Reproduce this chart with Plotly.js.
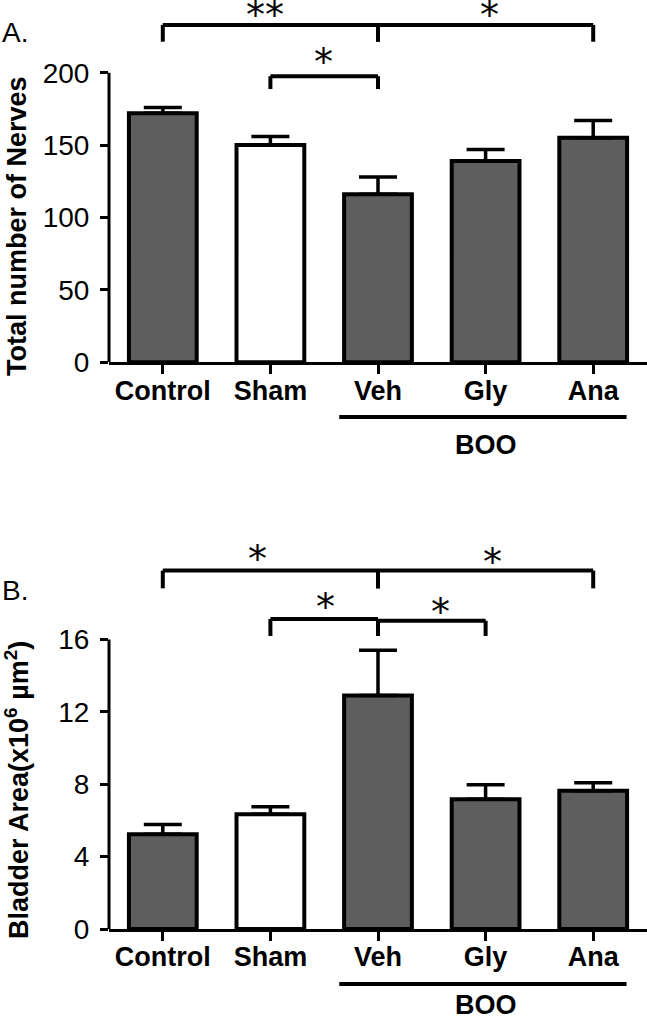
<!DOCTYPE html>
<html>
<head>
<meta charset="utf-8">
<script src="https://cdn.plot.ly/plotly-3.0.1.min.js"></script>
<style>
html,body{margin:0;padding:0;background:#fff;}
#chart{width:647px;height:1020px;}
</style>
</head>
<body>
<div id="chart"></div>
<script>
// ---- data ----
var categories = ["Control", "Sham", "Veh", "Gly", "Ana"];
var nervesMean = [172, 150, 116, 139, 155];
var nervesSEM  = [4, 6, 12, 8, 12];
var areaMean   = [5.23, 6.34, 12.9, 7.17, 7.64];
var areaSEM    = [0.55, 0.42, 2.5, 0.8, 0.44];
var barColors  = ["#5e5e5e", "#ffffff", "#5e5e5e", "#5e5e5e", "#5e5e5e"];
var nervesTicks = [0, 50, 100, 150, 200];
var areaTicks   = [0, 4, 8, 12, 16];
var groupLabel = "BOO";
// significance brackets: [from index, to index, line y, drop y]
var nervesBrackets = [[0, 2, 233, 221.4], [2, 4, 233, 221.4], [1, 2, 197.6, 188.7]];
var nervesStars = [["**", 0.95, 241], ["*", 3.04, 241], ["*", 1.49, 208.8]];
var areaBrackets = [[0, 2, 19.8, 18.82], [2, 4, 19.8, 18.82], [1, 2, 17.13, 16.19], [2, 3, 17.03, 16.19]];
var areaStars = [["*", 0.88, 20.57], ["*", 3.06, 20.4], ["*", 1.51, 17.9], ["*", 2.58, 17.6]];

var FONT = "Liberation Sans, Arial, sans-serif";
var STARFONT = "DejaVu Sans, sans-serif";
var PW = 647 - 109; // plot width in px

function barTrace(means, sems, xa, ya) {
  return {
    type: "bar", x: categories, y: means, xaxis: xa, yaxis: ya,
    width: 0.63,
    marker: {color: barColors, line: {color: "#000", width: 4}},
    error_y: {type: "data", array: sems, arrayminus: sems.map(function(){return 0;}),
              symmetric: false, color: "#000", thickness: 3.5, width: 19},
    hoverinfo: "none", showlegend: false
  };
}

var shapes = [];
var annotations = [];
function addBrackets(list, xr, yr) {
  list.forEach(function(b) {
    shapes.push({type: "line", xref: xr, yref: yr, x0: b[0], x1: b[0], y0: b[3], y1: b[2], line: {color: "#000", width: 4}});
    shapes.push({type: "line", xref: xr, yref: yr, x0: b[0], x1: b[1], y0: b[2], y1: b[2], line: {color: "#000", width: 4}});
    shapes.push({type: "line", xref: xr, yref: yr, x0: b[1], x1: b[1], y0: b[3], y1: b[2], line: {color: "#000", width: 4}});
  });
}
function addStars(list, xr, yr) {
  list.forEach(function(s) {
    annotations.push({text: s[0], xref: xr, yref: yr, x: s[1], y: s[2], showarrow: false,
      xanchor: "center", yanchor: "middle", yshift: -2,
      font: {family: STARFONT, size: 38, color: "#000"}});
  });
}
addBrackets(nervesBrackets, "x", "y");
addBrackets(areaBrackets, "x2", "y2");
addStars(nervesStars, "x", "y");
addStars(areaStars, "x2", "y2");

// y-axis lines (only up to the top tick)
shapes.push({type: "line", xref: "x domain", yref: "y", x0: 0, x1: 0, y0: 0, y1: nervesTicks[nervesTicks.length-1], line: {color: "#000", width: 3}});
shapes.push({type: "line", xref: "x2 domain", yref: "y2", x0: 0, x1: 0, y0: 0, y1: areaTicks[areaTicks.length-1], line: {color: "#000", width: 3}});

// BOO group lines
shapes.push({type: "line", xref: "x", yref: "paper", x0: 1.64, x1: 4.31, y0: 1 - 417/1020, y1: 1 - 417/1020, line: {color: "#000", width: 4}});
shapes.push({type: "line", xref: "x2", yref: "paper", x0: 1.64, x1: 4.31, y0: 1 - 984/1020, y1: 1 - 984/1020, line: {color: "#000", width: 4}});
annotations.push({text: "<b>" + groupLabel + "</b>", xref: "x", yref: "paper", x: 3, y: 1 - 445/1020, showarrow: false, yanchor: "middle", font: {family: FONT, size: 27, color: "#000"}});
annotations.push({text: "<b>" + groupLabel + "</b>", xref: "x2", yref: "paper", x: 3, y: 1 - 1005/1020, showarrow: false, yanchor: "middle", font: {family: FONT, size: 27, color: "#000"}});

// panel letters
annotations.push({text: "A.", xref: "paper", yref: "paper", x: -109/PW, y: 1 - 32/1020, xanchor: "left", yanchor: "middle", showarrow: false, font: {family: FONT, size: 28, color: "#000"}});
annotations.push({text: "B.", xref: "paper", yref: "paper", x: -109/PW, y: 1 - 590/1020, xanchor: "left", yanchor: "middle", showarrow: false, font: {family: FONT, size: 28, color: "#000"}});

// y titles
annotations.push({text: "<b>Total number of Nerves</b>", xref: "paper", yref: "paper", x: (17 - 109)/PW, y: 1 - 226/1020, xanchor: "center", yanchor: "middle", textangle: -90, showarrow: false, font: {family: FONT, size: 27, color: "#000"}});
annotations.push({text: "<b>Bladder Area(x10<sup>6</sup> µm<sup>2</sup>)</b>", xref: "paper", yref: "paper", x: (17 - 109)/PW, y: 1 - 790/1020, xanchor: "center", yanchor: "middle", textangle: -90, showarrow: false, font: {family: FONT, size: 27, color: "#000"}});

function xaxisDef(anchor) {
  return {anchor: anchor, domain: [0, 1], type: "category", range: [-0.5, 4.5],
    showline: true, linecolor: "#000", linewidth: 3, ticks: "outside", ticklen: 9, tickwidth: 3, tickcolor: "#000",
    tickfont: {family: FONT, size: 27, color: "#000", weight: "bold"}, ticklabelstandoff: -7,
    showgrid: false, zeroline: false, fixedrange: true};
}
function yaxisDef(anchor, domain, range, tickvals) {
  return {anchor: anchor, domain: domain, range: range, tickvals: tickvals,
    showline: false, ticks: "outside", ticklen: 8, tickwidth: 3, tickcolor: "#000",
    tickfont: {family: FONT, size: 28, color: "#000"}, ticklabelstandoff: 5,
    showgrid: false, zeroline: false, fixedrange: true};
}

var layout = {
  width: 647, height: 1020,
  margin: {l: 109, r: 0, t: 0, b: 0},
  paper_bgcolor: "#fff", plot_bgcolor: "rgba(0,0,0,0)",
  xaxis: xaxisDef("y"),
  yaxis: yaxisDef("x", [1 - 362.3/1020, 1], [0, 362.3/1.448], nervesTicks),
  xaxis2: xaxisDef("y2"),
  yaxis2: yaxisDef("x2", [1 - 929/1020, 1 - 530/1020], [0, 399/18.1], areaTicks),
  shapes: shapes, annotations: annotations,
  showlegend: false
};

Plotly.newPlot("chart", [barTrace(nervesMean, nervesSEM, "x", "y"), barTrace(areaMean, areaSEM, "x2", "y2")], layout, {staticPlot: true, displayModeBar: false});
</script>
</body>
</html>
